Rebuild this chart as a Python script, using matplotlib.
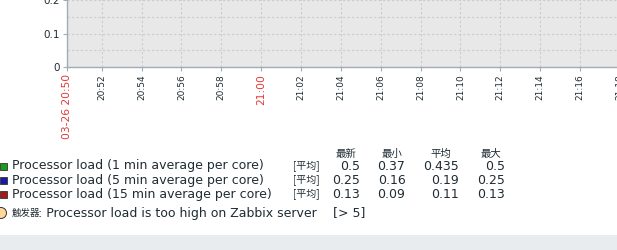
import matplotlib
matplotlib.use("Agg")
import matplotlib.pyplot as plt
from matplotlib.patches import Rectangle, Ellipse
from matplotlib.ticker import MultipleLocator

# ---- data ----
y_ticks = [0, 0.1, 0.2]
x_tick_minutes = [0.26, 2, 4, 6, 8, 10, 12, 14, 16, 18, 20, 22, 24, 26, 28]
x_tick_labels = ["03-26 20:50", "20:52", "20:54", "20:56", "20:58", "21:00",
                 "21:02", "21:04", "21:06", "21:08", "21:10", "21:12",
                 "21:14", "21:16", "21:18"]
x_red_labels = ["03-26 20:50", "21:00"]
series_names = ["Processor load (1 min average per core)",
                "Processor load (5 min average per core)",
                "Processor load (15 min average per core)"]
series_colors = ["#1a9e1a", "#1a1aa6", "#a61a1a"]
series_func = "[平均]"
col_headers = ["最新", "最小", "平均", "最大"]
last_vals = ["0.5", "0.25", "0.13"]
min_vals = ["0.37", "0.16", "0.09"]
avg_vals = ["0.435", "0.19", "0.11"]
max_vals = ["0.5", "0.25", "0.13"]
trigger_kind = "触发器"
trigger_label = ": Processor load is too high on Zabbix server"
trigger_cond = "[> 5]"

# ---- figure ----
W, H = 617, 250
fig = plt.figure(figsize=(W / 100, H / 100), dpi=100)
fig.patch.set_facecolor("white")
plt.rcParams['font.family'] = ['DejaVu Sans', 'Noto Sans CJK SC']
cjk = ['Noto Sans CJK SC', 'DejaVu Sans']
txt_color = "#1f2c33"

def fx(px):
    return px / W

def fy(py):
    return 1 - py / H

# axes geometry in pixels
px_per_min = 19.93
x0_min, x1_min = 0.26, 30.0
ax_left, ax_bottom_py = 67, 67
ax_w = (x1_min - x0_min) * px_per_min
px_per_unit = 335.0
y1 = 0.3
ax_h = y1 * px_per_unit
ax = fig.add_axes([fx(ax_left), fy(ax_bottom_py), ax_w / W, ax_h / H])
ax.set_facecolor("#e8e8e8")
ax.set_xlim(x0_min, x1_min)
ax.set_ylim(0, y1)

ax.set_yticks(y_ticks)
ax.set_yticklabels([f"{v:g}" for v in y_ticks], fontsize=7.5, color=txt_color)
ax.yaxis.set_minor_locator(MultipleLocator(0.05))
ax.set_xticks(x_tick_minutes)
ax.set_xticklabels(x_tick_labels, rotation=90, fontsize=6.5, color=txt_color,
                   va="top", ha="center")
for lab in ax.get_xticklabels():
    if lab.get_text() in x_red_labels:
        lab.set_color("#e33734")
        lab.set_fontsize(7.7)

grid_col = "#c5cdd3"
ax.grid(True, which="major", axis="both", color=grid_col, linestyle=(0, (2, 2)), linewidth=0.8)
ax.grid(True, which="minor", axis="y", color=grid_col, linestyle=(0, (2, 2)), linewidth=0.8)
ax.tick_params(axis="both", which="major", length=3, width=0.8, color="#a2acb5", pad=2)
ax.tick_params(axis="y", which="minor", length=0)
for s in ["top", "right"]:
    ax.spines[s].set_visible(False)
for s in ["left", "bottom"]:
    ax.spines[s].set_color("#a2acb5")
    ax.spines[s].set_linewidth(1.0)

# ---- legend ----
fs = 9
row_y = [166, 180.5, 194.5]
col_right = [360, 405.5, 459, 505]
head_x = [346, 391.5, 441, 491]
for hx, h in zip(head_x, col_headers):
    fig.text(fx(hx), fy(154), h, fontsize=7.5, color=txt_color, ha="center", va="center",
             family=cjk)
for i, (name, col) in enumerate(zip(series_names, series_colors)):
    y = row_y[i]
    fig.patches.append(Rectangle((fx(0), fy(y + 3.5)), 6.5 / W, 7 / H,
                                 transform=fig.transFigure, facecolor=col,
                                 edgecolor="#333333", linewidth=0.6))
    fig.text(fx(12.5), fy(y), name, fontsize=fs, color=txt_color, ha="left", va="center")
    fig.text(fx(293), fy(y), series_func, fontsize=7.2, color=txt_color, ha="left", va="center",
             family=cjk)
    for xr, vals in zip(col_right, [last_vals, min_vals, avg_vals, max_vals]):
        fig.text(fx(xr), fy(y), vals[i], fontsize=fs, color=txt_color, ha="right", va="center")

ty = 213
fig.patches.append(Ellipse((fx(1), fy(ty)), 11 / W, 11 / H, transform=fig.transFigure,
                           facecolor="#ffd79b", edgecolor="#333333", linewidth=0.7))
fig.text(fx(12), fy(ty), trigger_kind, fontsize=6.8, color=txt_color, ha="left", va="center",
         family=cjk)
fig.text(fx(38), fy(ty), trigger_label, fontsize=fs, color=txt_color, ha="left", va="center")
fig.text(fx(333), fy(ty), trigger_cond, fontsize=fs, color=txt_color, ha="left", va="center")

# bottom band
fig.patches.append(Rectangle((0, 0), 1, 15 / H, transform=fig.transFigure,
                             facecolor="#e9ecef", edgecolor="none"))

fig.savefig("out.png", dpi=100, facecolor="white")
